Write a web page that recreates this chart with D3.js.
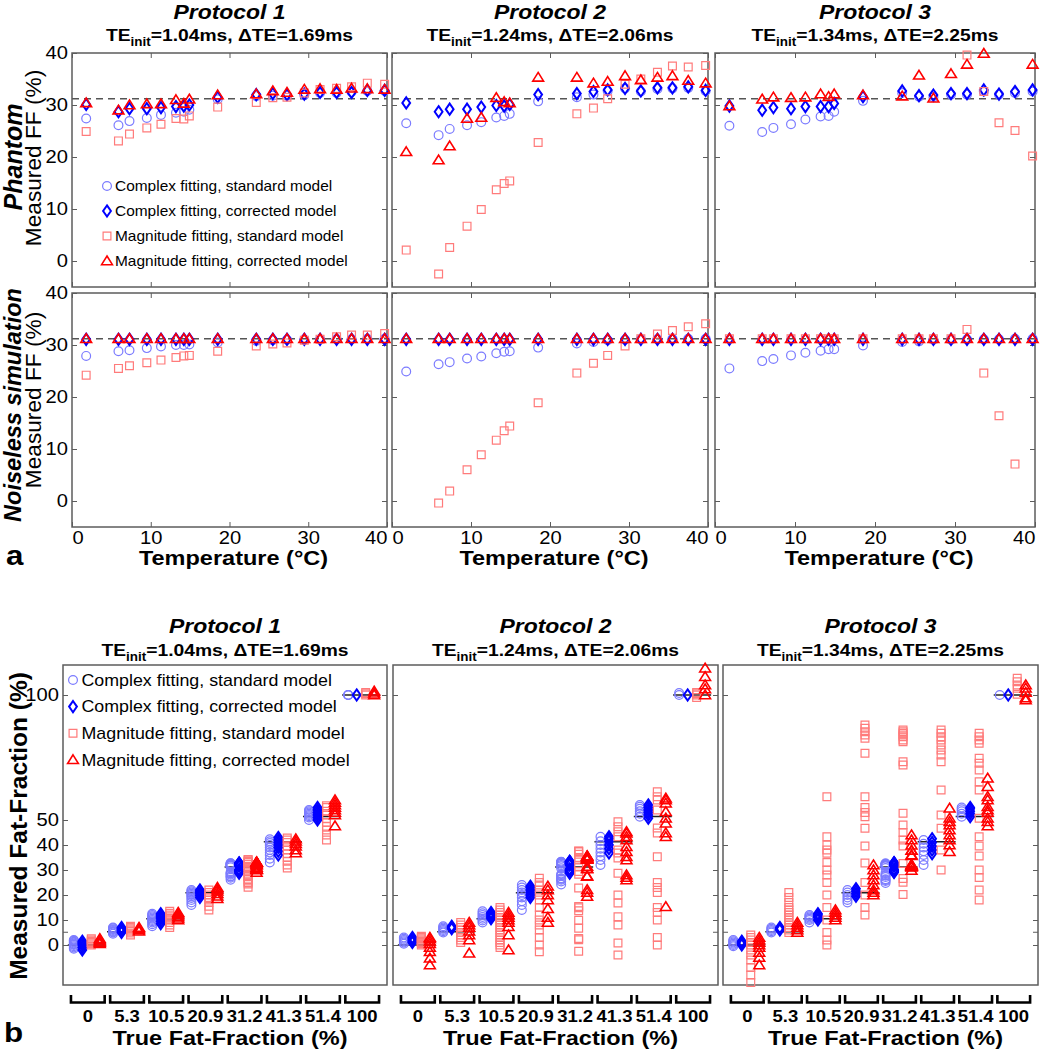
<!DOCTYPE html>
<html>
<head>
<meta charset="utf-8">
<script src="https://cdn.jsdelivr.net/npm/d3@7"></script>
<style>
  body { margin: 0; background: #fff; }
  text { font-family: 'Liberation Sans', Arial, Helvetica, sans-serif; }
</style>
</head>
<body>
<script>
// ---------- data ----------
const protocols = ["Protocol 1", "Protocol 2", "Protocol 3"];
const teInit = ["1.04", "1.24", "1.34"];
const deltaTE = ["1.69", "2.06", "2.25"];
const methodNames = ["Complex fitting, standard model", "Complex fitting, corrected model",
  "Magnitude fitting, standard model", "Magnitude fitting, corrected model"];
const rowNames = ["Phantom", "Noiseless simulation"];

const temps = [1.8, 5.9, 7.3, 9.5, 11.3, 13.2, 14.2, 14.9, 18.5, 23.4, 25.5, 27.3, 29.5, 31.5, 33.6, 35.5, 37.5, 39.7];
const tempTicks = [0, 10, 20, 30, 40];
const ffTicks = [0, 10, 20, 30, 40];
const refFF = 31.2;

// phantom, 31.2% vial
const ph1Circ = [27.4, 26.1, 26.9, 27.5, 28.1, 28.5, 28.7, 29.1, 31.1, 31.7, 31.8, 31.8, 31.9, 32.3, 32.3, 32.5, 32.7, 32.7];
const ph1Diam = [30.1, 28.7, 29.3, 29.3, 29.5, 29.7, 29.8, 30.0, 31.5, 32.0, 32.2, 32.0, 32.1, 32.4, 32.4, 32.4, 32.8, 32.8];
const ph1Sq   = [24.9, 23.1, 24.4, 25.6, 26.3, 27.4, 27.3, 27.9, 29.6, 30.5, 31.4, 31.5, 32.3, 33.0, 33.2, 33.5, 34.2, 34.0];
const ph1Tri  = [30.4, 29.0, 30.0, 30.2, 30.2, 31.0, 30.3, 31.1, 31.9, 32.1, 32.7, 32.4, 33.0, 33.1, 33.0, 33.2, 33.1, 33.0];

const ph2Circ = [26.5, 24.2, 25.4, 26.1, 26.7, 27.6, 27.9, 28.3, 30.7, 31.5, 32.0, 32.7, 33.2, 32.6, 33.1, 33.2, 33.3, 32.7];
const ph2Diam = [30.4, 28.7, 29.2, 29.2, 29.6, 29.9, 29.8, 30.1, 32.0, 32.2, 32.6, 32.9, 33.2, 32.7, 33.3, 33.3, 33.5, 32.8];
const ph2Sq   = [2.1, -2.5, 2.6, 6.7, 9.9, 13.7, 14.9, 15.4, 22.8, 28.3, 29.4, 31.2, 34.0, 35.0, 36.3, 37.5, 37.3, 37.6];
const ph2Tri  = [21.0, 19.4, 22.1, 27.4, 27.6, 31.4, 30.6, 30.4, 35.3, 35.3, 34.2, 34.5, 35.6, 34.8, 35.3, 35.6, 34.7, 34.2];

const ph3Circ = [26.0, 24.8, 25.6, 26.3, 27.2, 27.8, 27.9, 28.7, 30.8, 32.3, 31.6, 31.5, 32.0, 32.0, 32.6, 32.0, 32.3, 32.6];
const ph3Diam = [29.8, 29.0, 29.5, 29.3, 29.7, 29.7, 29.7, 30.3, 31.6, 32.7, 31.8, 31.9, 32.2, 32.2, 32.9, 32.1, 32.6, 32.9];
const ph3Sq   = [86.0, 85.3, 84.7, 84.0, 83.3, 82.0, 81.3, 73.3, 72.0, 52.7, 48.0, 45.0, 42.0, 39.6, 32.6, 26.6, 25.1, 20.2];
const ph3Tri  = [29.8, 31.1, 31.5, 31.4, 31.5, 32.1, 31.6, 32.1, 31.9, 31.7, 35.7, 31.3, 36.0, 37.8, 39.9, 44.0, 42.0, 37.8];

// noiseless simulation, 31.2% fat
const ns1Circ = [27.9, 28.8, 29.0, 29.4, 29.7, 30.0, 30.0, 30.1, 30.5, 30.8, 30.9, 31.0, 31.0, 31.1, 31.1, 31.1, 31.2, 31.2];
const ns1Diam = [31.1, 31.1, 31.1, 31.1, 31.1, 31.1, 31.1, 31.1, 31.1, 31.1, 31.1, 31.1, 31.1, 31.1, 31.1, 31.1, 31.1, 31.1];
const ns1Sq   = [24.2, 25.5, 26.0, 26.6, 27.1, 27.6, 27.9, 28.0, 28.8, 29.8, 30.2, 30.4, 30.9, 31.1, 31.6, 31.9, 31.9, 32.2];
const ns1Tri  = [31.2, 31.2, 31.2, 31.2, 31.2, 31.2, 31.2, 31.2, 31.2, 31.2, 31.2, 31.2, 31.2, 31.2, 31.2, 31.2, 31.2, 31.2];

const ns2Circ = [24.9, 26.3, 26.7, 27.4, 27.8, 28.4, 28.7, 28.8, 29.5, 30.3, 30.6, 30.9, 31.0, 31.1, 31.1, 31.2, 31.2, 31.2];
const ns2Diam = [31.1, 31.1, 31.1, 31.1, 31.1, 31.1, 31.1, 31.1, 31.1, 31.1, 31.1, 31.1, 31.1, 31.1, 31.1, 31.1, 31.1, 31.1];
const ns2Sq   = [-7.0, -0.4, 1.9, 6.0, 8.9, 11.7, 13.5, 14.4, 18.9, 24.6, 26.5, 28.0, 29.8, 31.2, 32.1, 32.8, 33.5, 34.1];
const ns2Tri  = [31.2, 31.2, 31.2, 31.2, 31.2, 31.2, 31.2, 31.2, 31.2, 31.2, 31.2, 31.2, 31.2, 31.2, 31.2, 31.2, 31.2, 31.2];

const ns3Circ = [25.5, 26.9, 27.3, 28.0, 28.5, 28.9, 29.2, 29.2, 29.9, 30.6, 30.7, 31.0, 31.0, 31.1, 31.1, 31.1, 31.2, 31.2];
const ns3Diam = [31.1, 31.1, 31.1, 31.1, 31.1, 31.1, 31.1, 31.1, 31.1, 31.1, 31.1, 31.1, 31.1, 31.1, 31.1, 31.1, 31.1, 31.1];
const ns3Sq   = [31.2, 31.2, 31.2, 31.2, 31.2, 31.2, 31.2, 31.2, 31.2, 31.2, 31.2, 31.2, 31.2, 33.0, 24.6, 16.4, 7.1, -8.0];
const ns3Tri  = [31.2, 31.2, 31.2, 31.2, 31.2, 31.2, 31.2, 31.2, 31.2, 31.2, 31.2, 31.2, 31.2, 31.2, 31.2, 31.2, 31.2, 31.2];

// panel b: one list per true fat-fraction vial
const trueFF = [0, 5.3, 10.5, 20.9, 31.2, 41.3, 51.4, 100];
const groupLabels = ["0", "5.3", "10.5", "20.9", "31.2", "41.3", "51.4", "100"];
const bTicks = [0, 5.3, 10, 20, 30, 40, 50, 100];
const bTickLabels = ["0", "", "10", "20", "30", "40", "50", "100"];

const b1Circ = [[-1.5, -1, -0.5, 0, 0.3, 0.6, 1, 1.3, 1.7, 2], [4.5, 5, 5.3, 5.6, 6, 6.3, 6.7, 7],
  [7.5, 8.3, 9, 9.5, 10, 10.5, 11, 11.5, 12, 12.5], [16, 17, 18, 18.8, 19.5, 20, 20.5, 21, 21.5, 22],
  ph1Circ, [33, 34.5, 36, 37, 38, 39, 40, 40.8, 41.5, 42.3], [50, 51, 51.5, 52, 52.5, 53, 53.5, 54], [100, 100, 100]];
const b1Diam = [[-2, -1, 0, 0.5, 1, 1.5], [5, 5.5, 6, 6.5, 7], [8.5, 9.5, 10.5, 11, 11.5, 12, 12.5],
  [19, 19.8, 20.5, 21, 21.5, 22], ph1Diam, [36, 37.5, 39, 40, 41, 42, 43], [50, 51, 52, 53, 54, 55], [100]];
const b1Sq = [[0, 0.5, 1, 1.5, 2, 2.5], [4, 4.8, 5.5, 6, 6.5, 7, 7.5], [7, 8, 9, 10, 10.7, 11.3, 12, 12.7, 13.5],
  [14, 15.5, 17, 18, 19, 20, 21, 22], ph1Sq, [30.8, 32, 33.5, 35, 36.5, 38, 39.5, 41, 42, 42.8],
  [42, 44, 46, 47.5, 49, 50.5, 52, 53.5, 55, 55.7], [100, 100.5, 101]];
const b1Tri = [[0.5, 1, 1.5, 2, 2.5], [5.5, 6, 6.5, 7], [10, 10.7, 11.3, 12, 12.5, 13],
  [18.5, 19.5, 20.5, 21.5, 22.3, 23], ph1Tri, [36.8, 38, 39.5, 40.5, 41.5, 42.4],
  [47.6, 52, 53, 54, 55, 56, 57, 58], [100, 100.7, 101.5]];

const b2Circ = [[0.5, 1, 1.5, 2, 2.5, 3], [5, 5.5, 6, 6.5, 7, 7.5], [9, 9.8, 10.5, 11.2, 12, 12.7, 13.5],
  [14, 16, 17.5, 19, 20, 21, 22, 23, 24], ph2Circ, [32, 34, 35.5, 37, 38.5, 40, 41.5, 43.3],
  [51.3, 52.5, 53.5, 54.5, 55.3, 56], [100, 100.8]];
const b2Diam = [[1, 1.5, 2, 2.5, 3], [6.5, 7, 7.5], [10.5, 11, 11.5, 12, 12.5, 13], [19, 20, 21, 22, 23, 23.5],
  ph2Diam, [36.8, 38.5, 40, 41.5, 42.5, 43.3], [50.7, 52, 53, 54, 55, 56], [100]];
const b2Sq = [[0, 0.5, 1, 1.5, 2, 2.5, 3, 3.5], [1, 2, 3, 4, 5, 6, 7, 8, 9],
  [-1, 0, 1, 2, 3, 4, 5, 6, 7, 8, 9, 10, 11, 12, 13, 14, 15],
  [-2.7, 0, 3, 6, 8, 10, 12, 15, 18, 20, 22, 24, 25, 26.7], ph2Sq,
  [-4, 0.8, 8, 11.3, 16.8, 20, 28.7, 34.8, 36.8, 38, 43.3, 45.3, 47.3, 49.3],
  [0, 3, 10, 13, 15, 21, 23, 25, 35.3, 44.8, 46.8, 54, 58, 59.3, 61.3], [99, 100, 100.5, 101]];
const b2Tri = [[-8, -5.3, -2.7, -1, 0.5, 1.5, 2.5, 3], [-3.3, 2, 4, 5.5, 7, 8, 9], [-2, 4, 7.3, 9, 10, 11, 12, 13],
  [9, 11, 14.5, 18, 20, 22, 23.5], ph2Tri, [26, 27, 28, 34, 35.3, 37.3, 39.3, 42, 43.3, 44.7, 45.3],
  [15.3, 43.3, 44.8, 48.7, 50.7, 53.3, 56.7, 58, 58.7], [100, 102.4, 104, 107.3, 110.7]];

const b3Circ = [[-0.5, 0, 0.5, 1, 1.5, 2], [5, 5.5, 6, 6.5, 7], [9, 10, 10.5, 11, 11.5, 12], [17, 18, 19, 20, 21, 22],
  ph3Circ, [32, 34, 36, 37.5, 39, 40.5, 42], [51.3, 52.5, 53.5, 54.3, 55], [100]];
const b3Diam = [[0, 0.5, 1, 1.5], [6, 6.5, 7], [10, 11, 11.5, 12, 12.5], [19.5, 20.5, 21.5, 22.5],
  ph3Diam, [36.5, 38, 39.5, 41, 42.5], [51.3, 52.5, 53.5, 54.5, 55], [100]];
const b3Sq = [[-15, -12, -9, -6, -4, -2, 0, 1, 2, 3, 4], [5, 6, 7, 8, 9, 10, 11, 12, 13, 14, 15, 17, 19, 21],
  [0, 2, 5, 10, 15, 20, 25, 28, 30, 33, 36.7, 38, 40, 43.3, 59.3],
  [12, 15, 20, 25, 32.8, 39.6, 46.7, 51.3, 53, 55, 59.3, 76.7, 82.7, 84, 85.3, 86.7, 88], ph3Sq,
  [30, 38, 46.7, 52, 62, 73.3, 76, 78, 80, 82, 83.3, 84.7, 86],
  [18, 22, 27, 30, 35.6, 39.6, 43.3, 50.7, 62, 65.3, 70, 72.7, 74.7, 80.7, 82, 83.3, 84.7],
  [100.3, 102.7, 104, 105.3, 106.7]];
const b3Tri = [[-8, -5, -3, -1, 0, 1, 2, 3], [5, 6, 7, 8, 9], [10, 11, 12, 13, 14], [20, 21, 22, 24, 26, 28, 30, 32],
  ph3Tri, [37.3, 40, 42, 44, 46, 48, 49.3, 50.7, 54.7],
  [47.6, 49.3, 50.7, 53, 54, 55.3, 58, 59.3, 63.3, 66.7], [98, 98.8, 101, 102.7, 104]];

// ---------- layout ----------
const W = 1048, H = 1050;
const SX = 1.12;  // lettering in the figure is a little wider than tall
const frameColor = "#5c5c5c";
const shapes = {
  circle: "M4.4,0A4.4,4.4 0 1,1 -4.4,0A4.4,4.4 0 1,1 4.4,0Z",
  diamond: "M0,-5.6L3.9,0L0,5.6L-3.9,0Z",
  square: "M-3.9,-3.9H3.9V3.9H-3.9Z",
  triangle: "M0,-5L5.4,3.7H-5.4Z"
};
const methodShape = ["circle", "diamond", "square", "triangle"];
const methodColor = ["#7b7bff", "#0000ff", "#ff7b7b", "#ff0000"];
const methodWidth = [1.2, 2, 1.2, 1.6];

const svg = d3.select("body").append("svg").attr("width", W).attr("height", H);
svg.append("rect").attr("width", W).attr("height", H).attr("fill", "#fff");

function stext(parent, x, y, str, size, weight, style, anchor) {
  return parent.append("text")
    .attr("transform", `translate(${x},${y}) scale(${SX},1)`)
    .attr("text-anchor", anchor || "middle")
    .style("font-size", size + "px")
    .style("font-weight", weight || "normal")
    .style("font-style", style || "normal")
    .attr("fill", "#000")
    .text(str);
}
function vtext(x, y, str, size, weight, style) {
  return svg.append("text")
    .attr("transform", `translate(${x},${y}) rotate(-90)`)
    .attr("text-anchor", "middle")
    .style("font-size", size + "px")
    .style("font-weight", weight || "normal")
    .style("font-style", style || "normal")
    .text(str);
}
function titleBlock(cx, y1, y2, i) {
  stext(svg, cx, y1, protocols[i], 20.5, "bold", "italic");
  const t = stext(svg, cx, y2, "", 17.2, "bold");
  t.append("tspan").text("TE");
  t.append("tspan").attr("dy", 5).style("font-size", "12px").text("init");
  t.append("tspan").attr("dy", -5).text(`=${teInit[i]}ms, \u0394TE=${deltaTE[i]}ms`);
}
function styleAxis(g, size) {
  g.select(".domain").remove();
  g.attr("font-family", null).attr("font-size", null);
  g.selectAll(".tick line").attr("stroke", frameColor);
  g.selectAll(".tick text").style("font-size", size + "px").attr("fill", "#000")
    .each(function () {
      const t = d3.select(this);
      t.attr("x", (+t.attr("x") || 0) / SX).attr("transform", `scale(${SX},1)`);
    });
}
function drawMarker(sel, m) {
  sel.attr("d", shapes[methodShape[m]])
    .attr("fill", "none")
    .attr("stroke", methodColor[m])
    .attr("stroke-width", methodWidth[m]);
}

// ---------- panel a ----------
const topCols = [[72, 387], [392, 708], [715, 1035]];
const topRows = [[53, 287], [293, 527]];
const topData = [
  [[ph1Circ, ph1Diam, ph1Sq, ph1Tri], [ph2Circ, ph2Diam, ph2Sq, ph2Tri], [ph3Circ, ph3Diam, ph3Sq, ph3Tri]],
  [[ns1Circ, ns1Diam, ns1Sq, ns1Tri], [ns2Circ, ns2Diam, ns2Sq, ns2Tri], [ns3Circ, ns3Diam, ns3Sq, ns3Tri]]
];

topCols.forEach(([x0, x1], c) => {
  titleBlock((x0 + x1) / 2, 18.5, 40.5, c);
  topRows.forEach(([y0, y1], r) => {
    const x = d3.scaleLinear([0, 40], [x0, x1]);
    const y = d3.scaleLinear([-5, 40], [y1, y0]);
    const g = svg.append("g");

    g.append("line").attr("x1", x0).attr("x2", x1).attr("y1", y(refFF)).attr("y2", y(refFF))
      .attr("stroke", "#555").attr("stroke-width", 1.5).attr("stroke-dasharray", "7,5");

    const fmt = d => String(d);
    const gl = g.append("g").attr("transform", `translate(${x0},0)`)
      .call(d3.axisLeft(y).tickValues(ffTicks).tickSize(-5).tickSizeOuter(0).tickPadding(4)
        .tickFormat(c === 0 ? fmt : ""));
    styleAxis(gl, 18);
    const gr = g.append("g").attr("transform", `translate(${x1},0)`)
      .call(d3.axisRight(y).tickValues(ffTicks).tickSize(-5).tickSizeOuter(0).tickFormat(""));
    styleAxis(gr, 18);
    const gt = g.append("g").attr("transform", `translate(0,${y0})`)
      .call(d3.axisTop(x).tickValues(tempTicks).tickSize(-5).tickSizeOuter(0).tickFormat(""));
    styleAxis(gt, 18);
    const gb = g.append("g").attr("transform", `translate(0,${y1})`)
      .call(d3.axisBottom(x).tickValues(tempTicks).tickSize(-5).tickSizeOuter(0).tickPadding(4)
        .tickFormat(r === 1 ? fmt : ""));
    styleAxis(gb, 18);
    gb.selectAll(".tick text").attr("text-anchor", d => d === 0 ? "start" : d === 40 ? "end" : "middle");

    g.append("rect").attr("x", x0).attr("y", y0).attr("width", x1 - x0).attr("height", y1 - y0)
      .attr("fill", "none").attr("stroke", frameColor).attr("stroke-width", 1.5);

    topData[r][c].forEach((vals, m) => {
      const pts = vals.map((v, i) => ({t: temps[i], v})).filter(d => d.v >= -5 && d.v <= 40);
      g.append("g").selectAll("path").data(pts).join("path")
        .attr("transform", d => `translate(${x(d.t)},${y(d.v)})`)
        .call(drawMarker, m);
    });

    if (r === 1) stext(svg, (x0 + x1) / 2 + 4, 565, "Temperature (\u00B0C)", 21, "bold");
  });
});

vtext(22, 157, rowNames[0], 25, "bold", "italic");
vtext(41, 158, "Measured FF (%)", 22.7);
vtext(21, 405, rowNames[1], 23.5, "bold", "italic");
vtext(41, 400, "Measured FF (%)", 22.7);
stext(svg, 6, 565, "a", 28, "bold", "normal", "start");

// legend a
methodNames.forEach((name, m) => {
  const ly = 186 + m * 25;
  svg.append("path").attr("transform", `translate(107,${ly})`).call(drawMarker, m);
  stext(svg, 115, ly + 5, name, 13.8, "normal", "normal", "start");
});

// ---------- panel b ----------
const bCols = [[63, 387], [393, 718], [723, 1038]];
const bTop = 665, bBot = 985;
const yB = d3.scaleLinear([-16, 112], [bBot, bTop]);
const bData = [[b1Circ, b1Diam, b1Sq, b1Tri], [b2Circ, b2Diam, b2Sq, b2Tri], [b3Circ, b3Diam, b3Sq, b3Tri]];
const colOffset = [-13, -4.5, 4.5, 13];

bCols.forEach(([x0, x1], p) => {
  titleBlock((x0 + x1) / 2, 633, 656, p);
  const g = svg.append("g");
  const band = d3.scaleBand(groupLabels, [x0 + 6, x1 - 6]).paddingInner(0.14).paddingOuter(0.05);
  const bw = band.bandwidth();

  const gl = g.append("g").attr("transform", `translate(${x0},0)`)
    .call(d3.axisLeft(yB).tickValues(bTicks).tickSize(-5).tickSizeOuter(0).tickPadding(4)
      .tickFormat((d, i) => p === 0 ? bTickLabels[i] : ""));
  styleAxis(gl, 18);
  const gr = g.append("g").attr("transform", `translate(${x1},0)`)
    .call(d3.axisRight(yB).tickValues(bTicks).tickSize(-5).tickSizeOuter(0).tickFormat(""));
  styleAxis(gr, 18);

  g.append("rect").attr("x", x0).attr("y", bTop).attr("width", x1 - x0).attr("height", bBot - bTop)
    .attr("fill", "none").attr("stroke", frameColor).attr("stroke-width", 1.5);

  groupLabels.forEach((lab, k) => {
    const cx = band(lab) + bw / 2 - 1;
    g.append("line").attr("x1", cx - 19).attr("x2", cx + 19)
      .attr("y1", yB(trueFF[k])).attr("y2", yB(trueFF[k]))
      .attr("stroke", "#222").attr("stroke-width", 1.5);
    bData[p].forEach((groups, m) => {
      g.append("g").selectAll("path").data(groups[k]).join("path")
        .attr("transform", v => `translate(${cx + colOffset[m]},${yB(v)})`)
        .call(drawMarker, m);
    });
    // bracket under each vial
    const bx = band(lab);
    g.append("path").attr("d", `M${bx},995V1002.5H${bx + bw}V995`)
      .attr("fill", "none").attr("stroke", "#000").attr("stroke-width", 2.6);
    stext(g, bx + bw / 2, 1022, lab, 16.5, "bold");
  });

  stext(svg, (x0 + x1) / 2 + 5, 1045, "True Fat-Fraction (%)", 21, "bold");
});

vtext(27, 826, "Measured Fat-Fraction (%)", 24.5, "bold");
stext(svg, 4, 1042, "b", 28, "bold", "normal", "start");

// legend b
methodNames.forEach((name, m) => {
  const ly = 680 + m * 26.6;
  svg.append("path").attr("transform", `translate(73,${ly})`).call(drawMarker, m);
  stext(svg, 81.5, ly + 5.8, name, 15.9, "normal", "normal", "start");
});
</script>
</body>
</html>
